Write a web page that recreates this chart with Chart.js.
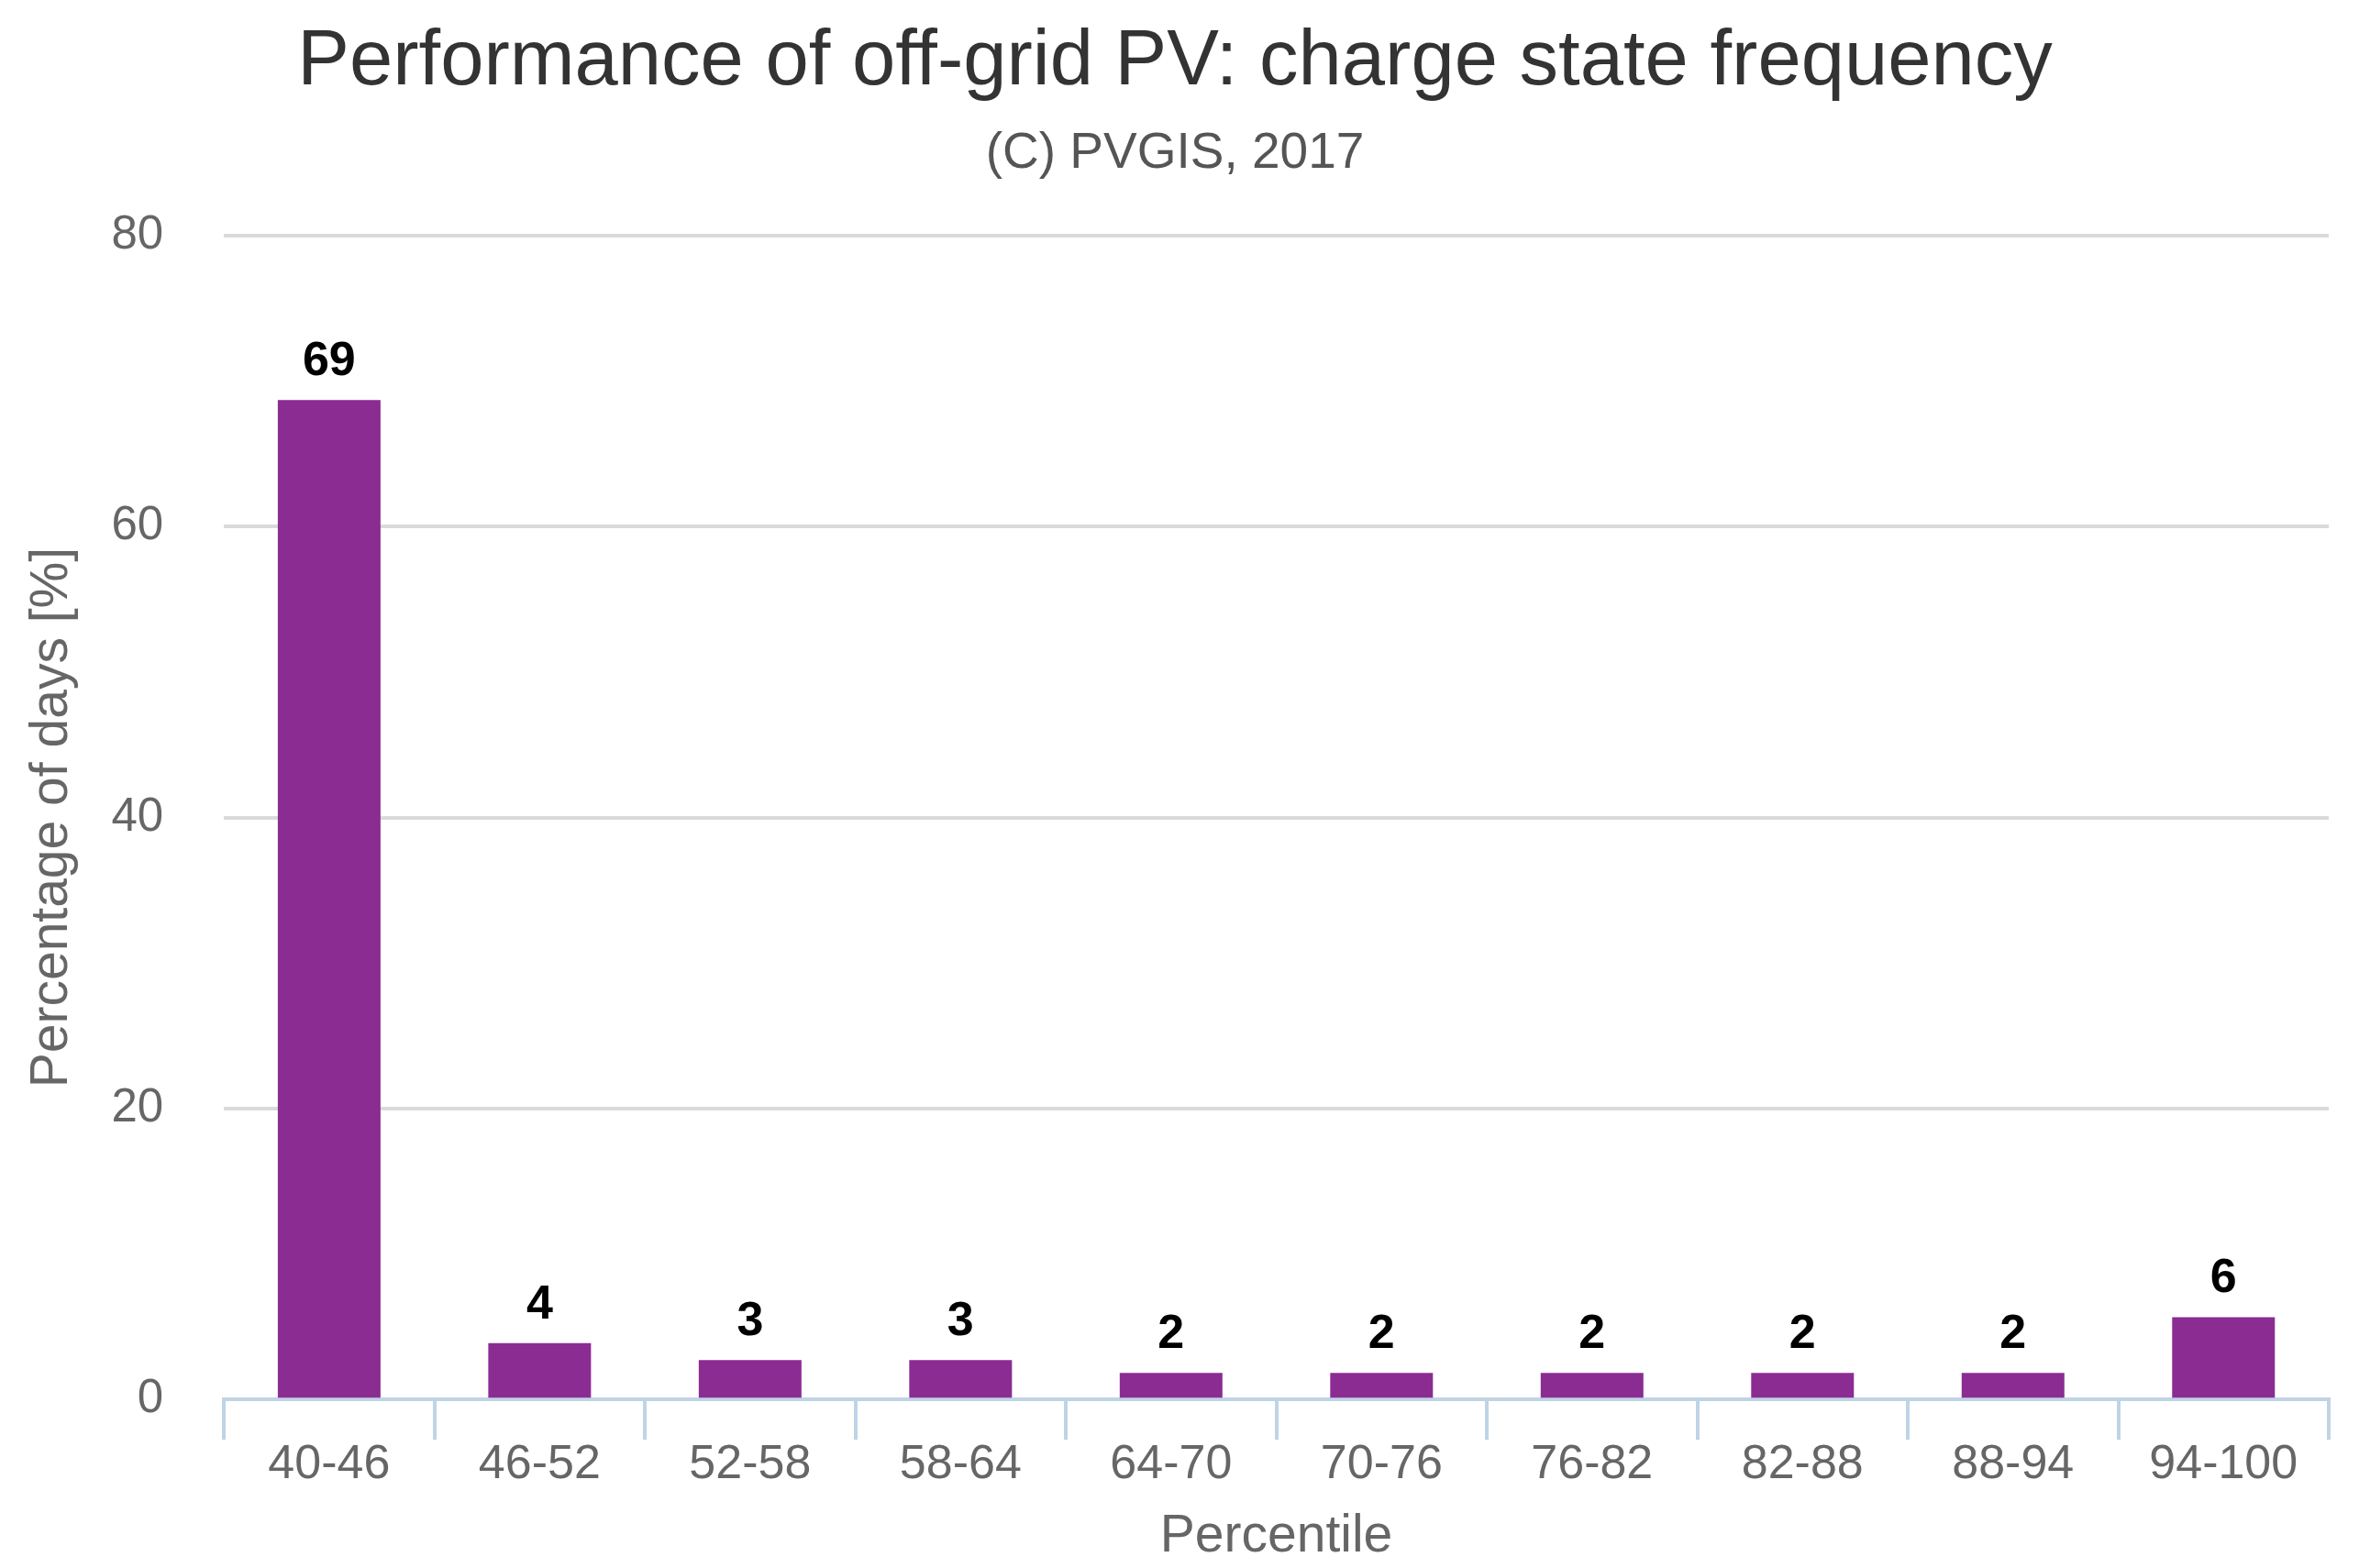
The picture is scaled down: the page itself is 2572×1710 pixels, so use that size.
<!DOCTYPE html>
<html>
<head>
<meta charset="utf-8">
<script src="https://cdn.jsdelivr.net/npm/chart.js@4/dist/chart.umd.min.js"></script>
<style>
  html,body{margin:0;padding:0;background:#fff;}
  #wrap{width:2572px;height:1710px;}
</style>
</head>
<body>
<div id="wrap"><canvas id="chart"></canvas></div>
<script>
// ===== Data =====
const categories = ["40-46","46-52","52-58","58-64","64-70","70-76","76-82","82-88","88-94","94-100"];
const percentDays = [68.7, 3.88, 2.7, 2.7, 1.82, 1.82, 1.82, 1.82, 1.82, 5.66];
const yTicks = [0, 20, 40, 60, 80];

const FONT = "'Liberation Sans', Arial, Helvetica, sans-serif";
const BAR_COLOR = "#8b2c92";
const AXIS_BLUE = "#bfd4e5";

// ===== Value labels above bars =====
const valueLabels = {
    id: "valueLabels",
    afterDatasetsDraw(chart){
        const {ctx} = chart;
        const meta = chart.getDatasetMeta(0);
        ctx.save();
        ctx.font = "bold 52px " + FONT;
        ctx.fillStyle = "#000";
        ctx.textAlign = "center";
        ctx.textBaseline = "alphabetic";
        meta.data.forEach((bar, i) => {
            ctx.fillText(String(Math.round(percentDays[i])), bar.x, bar.y - 27);
        });
        ctx.restore();
    }
};

// ===== Chart =====
Chart.defaults.font.family = FONT;
const ctx = document.getElementById("chart").getContext("2d");
new Chart(ctx, {
    type: "bar",
    data: {
        labels: categories,
        datasets: [{
            label: "Percentage of days",
            data: percentDays,
            backgroundColor: BAR_COLOR,
            borderWidth: 0,
            categoryPercentage: 1,
            barPercentage: 0.488
        }]
    },
    options: {
        responsive: true,
        maintainAspectRatio: false,
        devicePixelRatio: 1,
        animation: false,
        layout: { padding: { left: 23, right: 33, top: 0, bottom: 0 } },
        plugins: {
            legend: { display: false },
            tooltip: { enabled: false },
            title: {
                display: true,
                text: "Performance of off-grid PV: charge state frequency",
                color: "#333",
                font: { size: 85, weight: "normal" },
                padding: { top: 18, bottom: 0 }
            },
            subtitle: {
                display: true,
                text: "(C) PVGIS, 2017",
                color: "#555",
                font: { size: 55 },
                padding: { top: 15, bottom: 56 }
            }
        },
        scales: {
            x: {
                border: { display: true, color: AXIS_BLUE, width: 4 },
                grid: {
                    offset: true,
                    drawOnChartArea: false,
                    drawTicks: true,
                    tickLength: 44,
                    color: AXIS_BLUE,
                    lineWidth: 4
                },
                ticks: { color: "#666", font: { size: 52 }, padding: -4, maxRotation: 0 },
                title: {
                    display: true,
                    text: "Percentile",
                    color: "#666",
                    font: { size: 57 },
                    padding: { top: 17, bottom: 0 }
                }
            },
            y: {
                min: 0,
                max: 80,
                afterBuildTicks(axis){ axis.ticks = yTicks.map(v => ({value: v})); },
                border: { display: false },
                grid: {
                    color: (c) => c.tick && c.tick.value === 0 ? "rgba(0,0,0,0)" : "#dadada",
                    lineWidth: 4,
                    drawTicks: false
                },
                ticks: { color: "#666", font: { size: 51 }, padding: 66 },
                title: {
                    display: true,
                    text: "Percentage of days [%]",
                    color: "#666",
                    font: { size: 57 },
                    padding: { top: 0, bottom: -36 }
                }
            }
        }
    },
    plugins: [valueLabels]
});
</script>
</body>
</html>
